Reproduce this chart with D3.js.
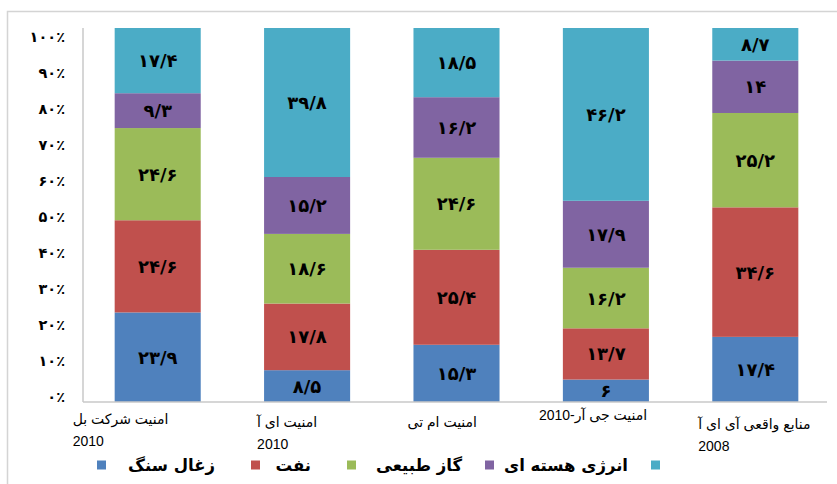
<!DOCTYPE html>
<html>
<head>
<meta charset="utf-8">
<script src="https://cdn.jsdelivr.net/npm/d3@7"></script>
<style>
  body { margin: 0; background: #fff; }
  svg { display: block; }
</style>
</head>
<body>
<svg id="chart" width="837" height="484"></svg>
<script>
// categories (each one is a list of label lines)
var categories = [
    ["امنیت شرکت بل", "2010"],
    ["امنیت ای آ", "2010"],
    ["امنیت ام تی"],
    ["امنیت جی آر-2010"],
    ["منابع واقعی آی ای آ", "2008"]
];
var seriesNames = ["زغال سنگ", "نفت", "گاز طبیعی", "انرژی هسته ای", ""];
var coal    = [23.9, 8.5, 15.3, 6, 17.4];
var oil     = [24.6, 17.8, 25.4, 13.7, 34.6];
var gas     = [24.6, 18.6, 24.6, 16.2, 25.2];
var nuclear = [9.3, 15.2, 16.2, 17.9, 14];
var other   = [17.4, 39.8, 18.5, 46.2, 8.7];
var yTicks  = [0, 10, 20, 30, 40, 50, 60, 70, 80, 90, 100];

var colors = ["#4f81bd", "#c0504d", "#9bbb59", "#8064a2", "#4bacc6"];
var fa = function(s) { return String(s).replace(/[0-9]/g, function(d) { return "۰۱۲۳۴۵۶۷۸۹"[+d]; }); };

var svg = d3.select("#chart");
var margin = {top: 28, left: 83, right: 7, bottom: 82};
var w = 837 - margin.left - margin.right;
var h = 484 - margin.top - margin.bottom;

// outer frame
svg.append("rect")
   .attr("x", 7.5).attr("y", 11.5)
   .attr("width", 850).attr("height", 490)
   .attr("fill", "#fff")
   .attr("stroke", "#d4d4d4")
   .attr("stroke-width", 1.5);

var g = svg.append("g").attr("transform", "translate(" + margin.left + "," + margin.top + ")");

var x = d3.scaleBand().domain(d3.range(categories.length)).range([0, w])
          .paddingInner(0.424).paddingOuter(0.212);
var y = d3.scaleLinear().domain([0, 100]).range([h, 0]);
// the tick labels sit a little closer together than the bars
var yLab = d3.scaleLinear().domain([0, 100]).range([h - 5, 9]);

// stack data
var rows = categories.map(function(c, i) {
    return {i: i, s0: coal[i], s1: oil[i], s2: gas[i], s3: nuclear[i], s4: other[i]};
});
var keys = ["s0", "s1", "s2", "s3", "s4"];
var stack = d3.stack().keys(keys).offset(d3.stackOffsetExpand)(rows);

var layer = g.selectAll("g.layer").data(stack).enter().append("g")
    .attr("class", "layer")
    .attr("fill", function(d, k) { return colors[k]; });

layer.selectAll("rect").data(function(d) { return d; }).enter().append("rect")
    .attr("x", function(d) { return x(d.data.i); })
    .attr("width", x.bandwidth())
    .attr("y", function(d) { return y(d[1] * 100); })
    .attr("height", function(d) { return y(d[0] * 100) - y(d[1] * 100); });

layer.selectAll("text").data(function(d) { return d.map(function(p) { p.key = d.key; return p; }); })
    .enter().append("text")
    .attr("x", function(d) { return x(d.data.i) + x.bandwidth() / 2; })
    .attr("y", function(d) { return (y(d[0] * 100) + y(d[1] * 100)) / 2; })
    .attr("dy", "0.36em")
    .attr("text-anchor", "middle")
    .attr("fill", "#000")
    .style("font", "bold 18px 'DejaVu Sans'")
    .text(function(d) { return fa(String(d.data[d.key]).replace(".", "/")); });

// axis lines
g.append("line").attr("x1", 0).attr("x2", 0).attr("y1", 0).attr("y2", h)
 .attr("stroke", "#c8c8c8").attr("stroke-width", 1.5);
g.append("line").attr("x1", 0).attr("x2", w - 3).attr("y1", h).attr("y2", h)
 .attr("stroke", "#c8c8c8").attr("stroke-width", 1.5);

// y axis labels
var yAxis = g.append("g")
    .attr("transform", "translate(-18,0)")
    .call(d3.axisLeft(yLab).tickValues(yTicks).tickSize(0).tickPadding(0)
          .tickFormat(function(d) { return fa(d) + "٪"; }));
yAxis.select(".domain").remove();
yAxis.selectAll("text").style("font", "bold 14.5px 'DejaVu Sans'").attr("fill", "#000");

// category labels
var labDx = [-85, -50, -49, -67, -57];
var labDy = [0, 3, 3, -4, 5];
var cat = g.selectAll("text.cat").data(categories).enter().append("text")
    .attr("class", "cat")
    .attr("direction", "rtl")
    .attr("text-anchor", "end")
    .attr("y", function(d, i) { return h + 22 + labDy[i]; })
    .style("font", "14px 'Liberation Sans', 'DejaVu Sans'")
    .attr("fill", "#000");
cat.selectAll("tspan").data(function(d, i) { return d.map(function(t) { return {t: t, i: i}; }); })
    .enter().append("tspan")
    .attr("x", function(d) { return x(d.i) + x.bandwidth() / 2 + labDx[d.i]; })
    .attr("dy", function(d, j) { return j ? 22 : 0; })
    .text(function(d) { return d.t; });

// legend
var legX = [97, 251, 347, 485, 651];
var leg = svg.append("g").attr("transform", "translate(0,465)");
seriesNames.forEach(function(name, k) {
    leg.append("rect").attr("x", legX[k]).attr("y", -4.5).attr("width", 9).attr("height", 9)
       .attr("fill", colors[k]);
    if (name) {
        leg.append("text").attr("x", legX[k + 1] - (k < 2 ? 36 : 23))
           .attr("text-anchor", "end").attr("dy", "0.35em")
           .style("font", "bold 16.5px 'DejaVu Sans'").attr("fill", "#000").text(name);
    }
});
</script>
</body>
</html>
